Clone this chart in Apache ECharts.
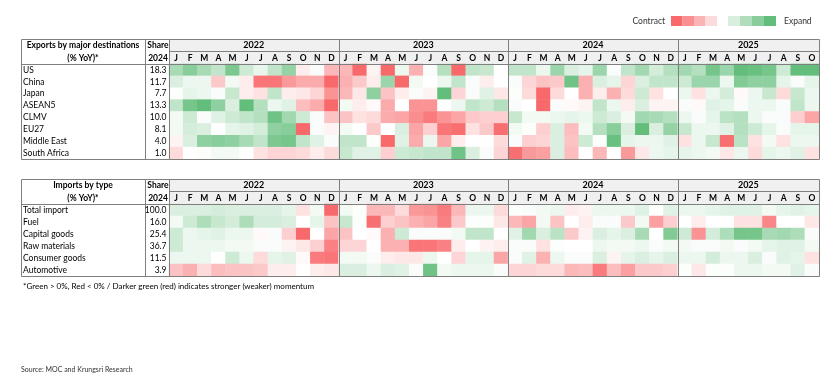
<!DOCTYPE html>
<html><head><meta charset="utf-8">
<script src="https://cdn.jsdelivr.net/npm/echarts@6/dist/echarts.min.js"></script>
<style>html,body{margin:0;padding:0;background:#fff}#c{width:840px;height:384px}</style>
</head><body><div id="c"></div>
<script>
// ---------- categories ----------
const years = ['2022', '2023', '2024', '2025'];
const monthsPerYear = [12, 12, 12, 10];
const monthLetters = ['J', 'F', 'M', 'A', 'M', 'J', 'J', 'A', 'S', 'O', 'N', 'D'];
const exportRows = ['US', 'China', 'Japan', 'ASEAN5', 'CLMV', 'EU27', 'Middle East', 'South Africa'];
const exportShare = ['18.3', '11.7', '7.7', '13.3', '10.0', '8.1', '4.0', '1.0'];
const importRows = ['Total import', 'Fuel', 'Capital goods', 'Raw materials', 'Consumer goods', 'Automotive'];
const importShare = ['100.0', '16.0', '25.4', '36.7', '11.5', '3.9'];

// ---------- momentum scores (Jan-2022 .. Oct-2025), + expand / - contract ----------
const expUS = [1.4, 1.9, 1.4, 1.0, 2.1, 0.8, 0.35, 1.0, 1.7, -0.3, 0.1, -1.2,
  -1.2, -2.8, -0.2, -2.8, 0.3, -1.3, 0.1, 1.2, -2.7, 1.0, 0.9, 0.0,
  1.0, 1.0, 0.3, 1.6, 0.6, 0.4, 1.6, 0.1, 1.0, 1.5, 0.7, 1.2,
  1.5, 1.2, 2.2, 1.6, 2.5, 2.4, 2.2, 0.8, 2.5, 2.5];
const expChina = [0.6, 0.3, 0.3, -0.9, 0.2, -0.3, -2.3, -2.3, -1.7, -1.4, -1.4, -2.5,
  -1.3, -0.9, -0.3, 1.6, -2.6, 0.2, 0.0, 0.3, 1.0, 0.1, -0.3, 0.0,
  0.1, -0.7, -1.0, -0.9, 2.3, -1.3, 0.6, 0.4, -0.7, 0.6, 1.0, 1.0,
  0.8, 1.6, 1.6, 0.3, 2.0, 1.8, 1.8, 0.4, 0.1, 0.4];
const expJapan = [0.05, 0.4, 0.3, 0.1, 0.9, -0.3, -0.5, 1.0, -0.3, -0.4, -0.7, -1.8,
  -1.2, -0.4, 1.8, -1.0, -0.3, 0.1, -0.2, 2.5, -0.7, 0.1, 0.5, -0.4,
  0.05, -0.6, -2.6, -0.6, 0.0, -1.3, -0.3, -1.3, -0.6, 0.8, -0.5, 0.0,
  0.3, -0.5, 0.3, 0.7, -0.1, 0.3, 0.9, -0.6, 0.9, 0.3];
const expASEAN5 = [1.0, 2.2, 2.5, 1.8, 0.6, 2.6, 1.2, 0.3, 0.5, -1.1, -1.4, -2.5,
  0.2, -0.3, -0.1, -1.4, 0.0, -1.8, -1.8, 0.0, 0.3, 1.0, 0.8, 1.2,
  0.1, 0.0, -2.6, 0.1, -0.1, -0.2, 1.0, 0.3, -0.3, 0.6, -0.2, -0.2,
  0.1, -0.1, 0.5, 0.4, 0.1, 0.3, 0.3, 0.1, 1.0, 0.3];
const expCLMV = [0.2, 0.8, 0.1, 0.5, 0.8, 1.0, 1.2, 2.3, 1.5, 0.8, 0.1, -1.0,
  -1.0, -0.5, -0.6, -1.4, -1.5, -1.9, -2.2, -1.8, -1.5, -0.9, -0.8, -0.8,
  0.9, 0.2, 0.2, 0.3, 0.4, 0.3, 0.8, 0.6, 0.2, 1.5, 1.4, 1.2,
  0.3, 0.1, 0.4, 1.1, 1.2, 0.3, 0.1, 0.1, -0.8, -1.5];
const expEU27 = [0.2, 0.7, 0.6, 0.0, 0.4, 0.5, 0.7, 1.8, 1.9, -2.6, 0.1, -0.2,
  0.2, 0.0, -0.9, 0.0, 0.6, -1.5, -0.8, -2.3, -2.4, -0.5, -0.9, -2.4,
  0.2, 0.05, -0.8, 0.6, -1.1, 0.2, 1.2, 1.9, 0.6, 2.5, 0.6, 1.7,
  0.9, 0.3, 0.3, 0.5, 1.2, 0.8, 0.4, 0.1, 0.4, 0.4];
const expMiddleEast = [-0.2, 0.6, 1.8, 1.9, 1.8, 1.4, 1.0, 2.1, 2.2, 1.0, 0.5, 0.1,
  1.0, 1.0, 0.05, -2.6, 0.5, -1.4, 0.3, -1.5, -0.3, 0.0, 0.0, -0.6,
  0.1, -0.8, -0.7, 0.6, -1.0, 0.8, 0.05, 2.4, 0.4, 0.3, 0.3, 0.5,
  -0.5, 0.3, 0.9, -2.4, 1.1, -0.5, 0.2, -0.5, 0.3, 0.3];
const expSouthAfrica = [-0.6, 0.0, -0.05, 0.2, 0.2, 0.0, -0.5, -0.7, -0.7, -0.6, -0.3, -0.6,
  0.9, 0.5, 0.5, -0.8, 0.8, 0.9, 1.0, 1.0, 2.3, 0.6, 0.1, -0.7,
  -2.4, -1.7, -1.6, 0.6, -1.1, 0.0, -1.2, 0.0, -1.7, -0.4, 0.3, 0.4,
  0.4, 0.3, 0.2, -0.4, 0.3, -0.6, 0.4, 0.3, 0.5, -0.5];

const impTotal = [0.6, 0.6, 0.6, 0.7, 0.6, 0.6, 0.6, 0.6, 0.4, -0.5, 0.2, -2.5,
  0.2, 0.05, -1.2, -1.2, -0.6, -1.7, -1.8, -2.2, -1.2, 0.3, 0.3, -0.6,
  0.05, 0.1, 0.2, 0.3, -0.3, -0.2, 0.3, 0.3, 0.3, 0.5, 0.0, 0.5,
  0.3, 0.3, 0.4, 0.5, 0.5, 0.5, 0.2, 0.4, 0.5, 0.4];
const impFuel = [0.2, 0.8, 1.3, 0.9, 0.7, 1.3, 0.7, 0.7, 0.6, 0.0, 0.4, -1.0,
  0.9, 0.05, -2.4, -0.8, -1.0, -1.3, -1.5, -2.1, -0.9, 0.05, 0.05, -0.4,
  -1.2, -1.5, 0.2, -1.0, 0.0, -0.3, 0.1, 0.1, -0.9, 0.2, -1.6, -0.8,
  0.0, -0.3, 0.0, 0.0, -0.5, -0.5, -2.0, 0.0, 0.0, -0.4];
const impCapital = [0.8, 0.3, 0.4, 0.5, 0.3, 0.3, -0.1, 0.1, -0.8, -2.5, 0.0, -1.5,
  -1.0, 0.0, -0.1, -1.3, 0.8, 0.1, 0.1, 0.1, 0.2, 1.0, 1.0, 0.0,
  0.5, 1.5, 0.6, 1.1, -0.9, -0.2, 0.6, 0.4, 0.6, 1.4, 0.0, 2.0,
  0.8, -1.8, 0.7, 1.3, 2.2, 2.2, 1.4, 1.5, 1.3, 0.1];
const impRaw = [0.8, 0.3, 0.3, 0.3, 0.2, 0.2, 0.1, 0.1, -0.2, -0.4, -0.8, -2.1,
  -0.7, -0.7, 0.0, -1.3, -1.3, -2.3, -2.3, -2.1, -0.3, 0.0, -0.2, -0.3,
  0.1, 0.1, -0.5, 0.05, 0.0, 0.0, 0.3, 0.2, 0.2, 0.3, 0.1, 0.2,
  0.2, 0.1, 0.1, 0.2, 0.1, 0.2, 0.4, 0.5, 0.5, 0.2];
const impConsumer = [0.3, 0.3, 0.3, 0.0, 0.8, 0.3, -0.6, 0.4, 0.5, -0.1, -2.2, -2.3,
  0.2, 0.2, 0.1, -0.3, -0.4, -0.4, 0.3, 0.0, -0.7, 0.4, 0.4, -1.5,
  0.1, 0.5, -1.3, 0.3, 0.1, 0.1, 0.6, -0.2, 0.4, 0.6, 0.4, 0.6,
  0.3, 0.3, 0.7, 0.3, 0.3, 0.6, 0.1, 0.5, 0.4, -0.5];
const impAutomotive = [-1.0, -1.3, -0.6, -1.1, -1.0, -1.0, -0.9, -0.3, -0.3, 0.0, -0.3, -0.4,
  0.6, 0.6, 0.3, 0.6, 0.5, 0.1, 2.3, 0.2, 0.3, 0.3, 0.3, 0.1,
  -0.7, -0.7, -0.6, -0.6, -1.2, -1.1, -2.2, -1.1, -1.6, -0.9, -0.9, -0.8,
  0.05, -0.4, 0.05, 0.05, 0.3, 0.3, 0.2, 0.2, 0.5, 0.1];

const exportValues = [expUS, expChina, expJapan, expASEAN5, expCLMV, expEU27, expMiddleEast, expSouthAfrica];
const importValues = [impTotal, impFuel, impCapital, impRaw, impConsumer, impAutomotive];

// ---------- build ----------
const periods = [];
years.forEach((y, k) => { for (let m = 0; m < monthsPerYear[k]; m++) periods.push(y + '-' + m); });

function toCells(rows) {
  const out = [];
  rows.forEach((arr, r) => arr.forEach((v, c) => out.push([c, r, v])));
  return out;
}

const FONT = 'Lato';
const BORDER = '#7f7f7f';
const chart = echarts.init(document.getElementById('c'), null, { renderer: 'canvas' });

const tables = [
  { top: 39, yearBottom: 51, dataTop: 64, dataBottom: 159, title: 'Exports by major destinations' },
  { top: 179, yearBottom: 191, dataTop: 204, dataBottom: 276, title: 'Imports by type' }
];
const LEFT = 21, COL1 = 145, GL = 169, GW = 650, RIGHT = GL + GW;

function xAxisCfg(gi) {
  return {
    type: 'category', gridIndex: gi, data: periods, position: 'top', z: 30,
    axisLine: { show: false }, axisTick: { show: false }, splitLine: { show: false },
    axisLabel: {
      interval: 0, margin: 1.5, fontFamily: FONT, fontWeight: 'bold', fontSize: 8.5, color: '#000',
      formatter: v => monthLetters[+v.split('-')[1]]
    }
  };
}
function yNameAxis(gi, names) {
  return {
    type: 'category', gridIndex: gi, data: names, inverse: true, position: 'left', z: 30,
    axisLine: { show: false }, axisTick: { show: false }, splitLine: { show: false },
    axisLabel: { align: 'left', margin: GL - LEFT - 2, fontFamily: FONT, fontSize: 8.5, color: '#000' }
  };
}
function yShareAxis(gi, shares) {
  return {
    type: 'category', gridIndex: gi, data: shares, inverse: true, position: 'left', z: 30,
    axisLine: { show: false }, axisTick: { show: false }, splitLine: { show: false },
    axisLabel: { align: 'right', margin: 2.5, fontFamily: FONT, fontSize: 8.5, color: '#000' }
  };
}

const option = {
  backgroundColor: '#fff',
  animation: false,
  grid: [
    { left: GL, top: tables[0].dataTop, width: GW, height: tables[0].dataBottom - tables[0].dataTop },
    { left: GL, top: tables[1].dataTop, width: GW, height: tables[1].dataBottom - tables[1].dataTop }
  ],
  xAxis: [xAxisCfg(0), xAxisCfg(1)],
  yAxis: [yNameAxis(0, exportRows), yShareAxis(0, exportShare), yNameAxis(1, importRows), yShareAxis(1, importShare)],
  visualMap: {
    type: 'continuous', show: false, min: -2.5, max: 2.5, dimension: 2, seriesIndex: [0, 1],
    inRange: { color: ['#F8696B', '#FFFFFF', '#63BE7B'] }
  },
  series: [
    { type: 'heatmap', xAxisIndex: 0, yAxisIndex: 0, data: toCells(exportValues), itemStyle: { borderWidth: 0 }, emphasis: { disabled: true } },
    { type: 'heatmap', xAxisIndex: 1, yAxisIndex: 2, data: toCells(importValues), itemStyle: { borderWidth: 0 }, emphasis: { disabled: true } }
  ]
};
chart.setOption(option);

// ---------- table frame, headers, legend (positions from the axes) ----------
const g = [];
function line(x1, y1, x2, y2) {
  g.push({ type: 'line', silent: true, z: 10, shape: { x1, y1, x2, y2 }, style: { stroke: BORDER, lineWidth: 1 } });
}
function text(t, x, y, opts) {
  g.push({ type: 'text', silent: true, z: 11, x, y, style: Object.assign({
    text: t, fontFamily: FONT, fontSize: 8.5, fill: '#000', align: 'center', verticalAlign: 'middle' }, opts || {}) });
}

tables.forEach((t, ti) => {
  const px = i => chart.convertToPixel({ xAxisIndex: ti }, periods[i]);
  const cw = px(1) - px(0);
  // header background
  g.push({ type: 'rect', silent: true, z: 0, shape: { x: GL, y: t.top, width: GW, height: t.dataTop - t.top }, style: { fill: '#f0f0f0' } });
  // outer frame
  g.push({ type: 'rect', silent: true, z: 10, shape: { x: LEFT + 0.5, y: t.top + 0.5, width: RIGHT - LEFT, height: t.dataBottom - t.top }, style: { fill: 'none', stroke: BORDER, lineWidth: 1 } });
  line(COL1 + 0.5, t.top, COL1 + 0.5, t.dataBottom);
  line(GL + 0.5, t.top, GL + 0.5, t.dataBottom);
  line(GL, t.yearBottom + 0.5, RIGHT, t.yearBottom + 0.5);
  line(LEFT, t.dataTop + 0.5, RIGHT, t.dataTop + 0.5);
  let start = 0;
  years.forEach((y, k) => {
    const end = start + monthsPerYear[k] - 1;
    const x0 = px(start) - cw / 2, x1 = px(end) + cw / 2;
    if (k > 0) line(Math.round(x0) + 0.5, t.top, Math.round(x0) + 0.5, t.dataBottom);
    text(y, (x0 + x1) / 2, (t.top + t.yearBottom) / 2 + 0.5, { fontWeight: 'bold', fontSize: 9 });
    start = end + 1;
  });
  const r1 = (t.top + t.yearBottom) / 2 + 0.5, r2 = (t.yearBottom + t.dataTop) / 2 + 0.5;
  text(t.title, (LEFT + COL1) / 2, r1, { fontWeight: 'bold' });
  text('(% YoY)*', (LEFT + COL1) / 2, r2, { fontWeight: 'bold' });
  text('Share', (COL1 + GL) / 2 + 1, r1, { fontWeight: 'bold' });
  text('2024', (COL1 + GL) / 2 + 1, r2, { fontWeight: 'bold' });
});

// legend
const legendReds = ['#F8696B', '#F98F90', '#FBB4B5', '#FDDADB'];
const legendGreens = ['#D8EEDE', '#B1DDBD', '#8ACD9C', '#63BE7B'];
legendReds.forEach((c, i) => g.push({ type: 'rect', silent: true, shape: { x: 671 + i * 11.5, y: 16, width: 11.5, height: 10 }, style: { fill: c } }));
legendGreens.forEach((c, i) => g.push({ type: 'rect', silent: true, shape: { x: 728 + i * 12, y: 16, width: 12, height: 10 }, style: { fill: c } }));
text('Contract', 665, 21.5, { align: 'right', fontSize: 8.5, fill: '#333' });
text('Expand', 784, 21.5, { align: 'left', fontSize: 8.5, fill: '#333' });

text('*Green > 0%, Red < 0% / Darker green (red) indicates stronger (weaker) momentum', 23, 286, { align: 'left', fontSize: 8, fill: '#000' });
text('Source: MOC and Krungsri Research', 21, 370, { align: 'left', fontSize: 7, fill: '#333' });

chart.setOption({ graphic: g });
</script>
</body></html>
